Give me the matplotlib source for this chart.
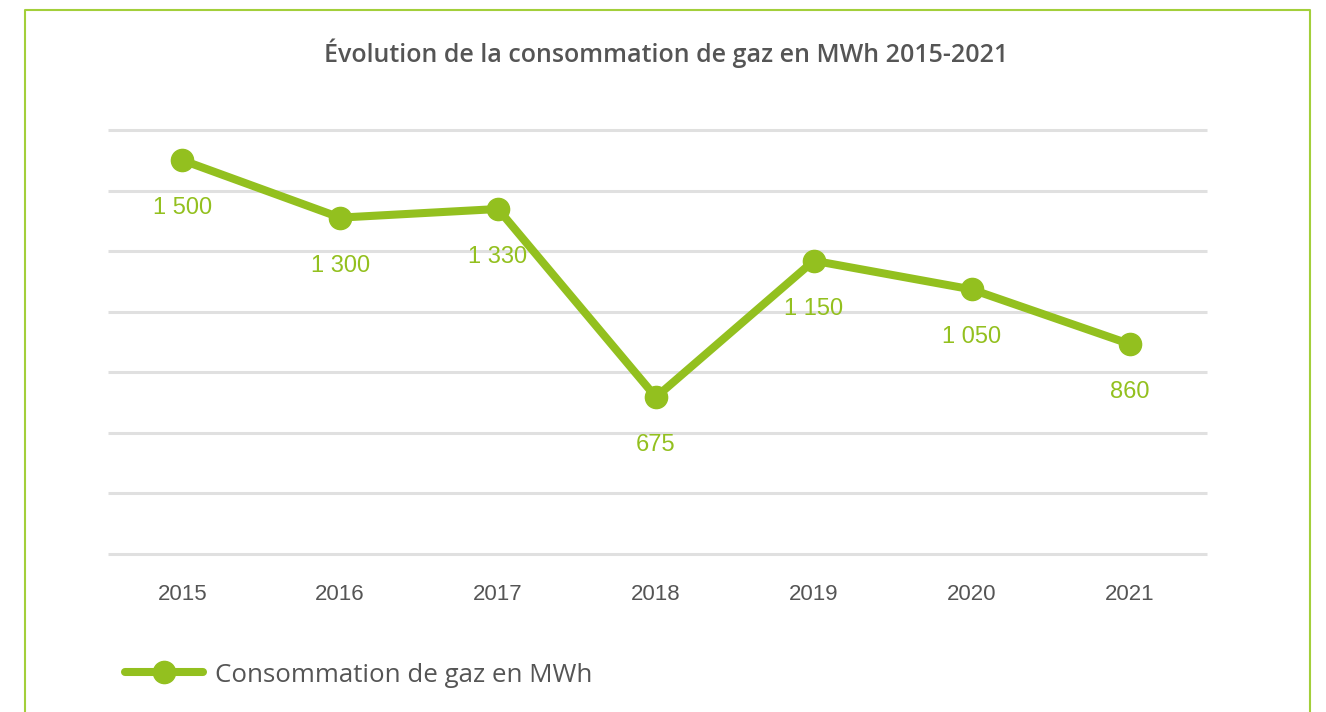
import matplotlib.pyplot as plt
from matplotlib.lines import Line2D
import numpy as np

years = ['2015', '2016', '2017', '2018', '2019', '2020', '2021']
conso = [1500, 1300, 1330, 675, 1150, 1050, 860]
labels = ['1 500', '1 300', '1 330', '675', '1 150', '1 050', '860']

green = '#93c01f'
frame_green = '#a3cf3a'
grey_txt = '#555555'
grid_col = '#e0e0e0'

fig = plt.figure(figsize=(13.26, 7.12), dpi=100)
ax = fig.add_axes([108/1326, 1 - 554/712, (1207-108)/1326, (554-130)/712])

x = np.arange(len(years))
ax.plot(x, conso, color=green, lw=5.8, marker='o', markersize=16,
        solid_capstyle='round', label='Consommation de gaz en MWh', zorder=3)

for xi, v, lab in zip(x, conso, labels):
    ax.annotate(lab, (xi, v), xytext=(0, -34.5), textcoords='offset points',
                ha='center', va='center', fontsize=17, color=green,
                family='Liberation Sans', zorder=4)

ylo, yhi = 129, 1605
ax.set_ylim(ylo, yhi)
ax.set_xlim(-0.47, 6.49)
ax.set_yticks(np.linspace(ylo, yhi, 8))
ax.set_yticklabels([])
ax.grid(axis='y', color=grid_col, lw=2.2, zorder=0)
for gl in ax.get_ygridlines():
    gl.set_clip_on(False)
    gl.set_solid_capstyle('butt')
ax.set_xticks(x)
ax.set_xticklabels(years, family='Liberation Sans', fontsize=16, color=grey_txt)
ax.tick_params(axis='both', length=0)
ax.tick_params(axis='x', pad=21.5)
for s in ax.spines.values():
    s.set_visible(False)

fig.text(666/1326, 1 - 53/712, 'Évolution de la consommation de gaz en MWh 2015-2021',
         ha='center', va='center', fontsize=18, color=grey_txt,
         family='Open Sans', weight='semibold')

leg = fig.legend(loc='center left', bbox_to_anchor=(125/1326, 1 - 675/712), frameon=False,
                 prop={'family': 'Open Sans', 'size': 18.6}, labelcolor=grey_txt,
                 handlelength=3.0, handletextpad=0.5, borderaxespad=0, borderpad=0)
for h in leg.get_lines():
    h.set_solid_capstyle('round')

# cadre vert
fig.add_artist(Line2D([25/1326, 25/1326, 1310/1326, 1310/1326],
                      [-0.05, 1 - 10/712, 1 - 10/712, -0.05],
                      color=frame_green, lw=1.5, transform=fig.transFigure))

fig.savefig('out.png', dpi=100)
